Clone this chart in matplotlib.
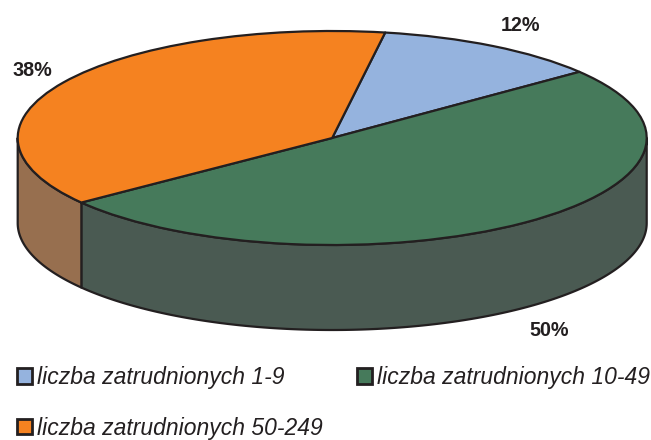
import numpy as np
import matplotlib
matplotlib.use("Agg")
import matplotlib.pyplot as plt
from matplotlib.patches import Patch

categories = ["liczba zatrudnionych 1-9", "liczba zatrudnionych 10-49", "liczba zatrudnionych 50-249"]
values = [11.7, 50.3, 38.0]
labels = ["12%", "50%", "38%"]
top_colors = ["#95B3DE", "#467A5B", "#F58220"]
side_colors = ["#7F93B0", "#4A5A52", "#976F4F"]
edge = "#231F20"

W, H = 651, 440
CX, CY, RX, RY, DEPTH = 332.2, 138.0, 314.5, 107.0, 85.0
START = 80.3
LW = 1.6

plt.rcParams["font.family"] = ["Liberation Sans", "DejaVu Sans"]
fig = plt.figure(figsize=(W / 100, H / 100), dpi=100)
ax = fig.add_axes([0, 0, 1, 1])
ax.axis("off")

# Pie in units of radius; the ellipse comes from unequal axis scales.
wedges, _ = ax.pie(values, colors=top_colors, startangle=START, counterclock=False,
                   radius=1, center=(0, 0), frame=False,
                   wedgeprops=dict(edgecolor=edge, linewidth=LW, zorder=5, joinstyle="round"))
ax.set_aspect("auto")
ax.set_xlim((0 - CX) / RX, (W - CX) / RX)
ax.set_ylim((CY - H) / RY, CY / RY)
ax.axis("off")

# Side wall: the front half of each slice, extruded downwards.
depth = DEPTH / RY
fracs = np.array(values) / sum(values)
bounds = START - 360 * np.concatenate([[0], np.cumsum(fracs)])
for i, col in enumerate(side_colors):
    a1, a0 = bounds[i], bounds[i + 1]          # clockwise a1 -> a0
    angs = []
    for k in range(-1, 2):
        lo, hi = max(a0, 180 + 360 * k), min(a1, 360 + 360 * k)
        if lo < hi:
            angs.append(np.linspace(lo, hi, 200))
    for t in angs:
        r = np.radians(t)
        x, y = np.cos(r), np.sin(r)
        ax.fill(np.r_[x, x[::-1]], np.r_[y, y[::-1] - depth], facecolor=col,
                edgecolor=edge, linewidth=LW, zorder=2, joinstyle="round")

# Percentage labels
label_pos = [(520, 26), (549, 330), (32, 71)]
for txt, (px, py) in zip(labels, label_pos):
    ax.text((px - CX) / RX, (CY - py) / RY, txt, ha="center", va="center",
            fontsize=14.2, fontweight="bold", color=edge, zorder=8)

handles = [Patch(facecolor=c, edgecolor=edge, linewidth=2.0) for c in top_colors]
order = [0, 2, 1]
leg = fig.legend([handles[i] for i in order], [categories[i] for i in order], ncol=2,
                 loc="lower left", bbox_to_anchor=(17 / W, 0.5 / H), frameon=False,
                 borderpad=0, borderaxespad=0, handlelength=0.66, handleheight=0.66,
                 handletextpad=0.22, columnspacing=1.5, labelspacing=1.2,
                 prop=dict(style="italic", size=16.5))
for t in leg.get_texts():
    t.set_color(edge)

fig.savefig("out.png", dpi=100, facecolor="white")
